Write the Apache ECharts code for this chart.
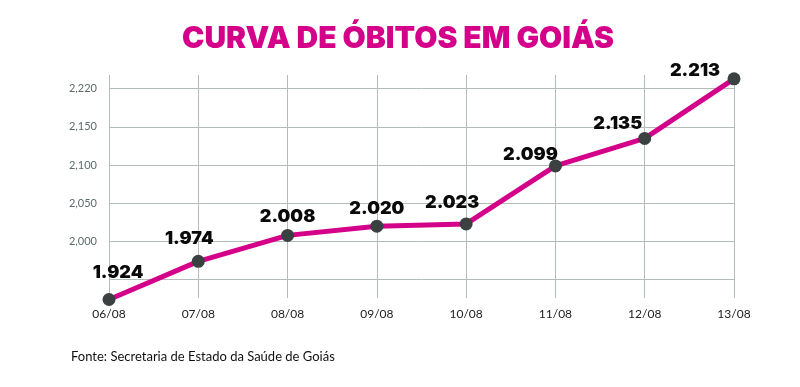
<!DOCTYPE html>
<html>
<head>
<meta charset="utf-8">
<script src="https://cdn.jsdelivr.net/npm/echarts@6/dist/echarts.min.js"></script>
<style>
html,body{margin:0;padding:0;background:#fff;}
#c{width:800px;height:387px;}
</style>
</head>
<body>
<div id="c"></div>
<script>
var categories = ['06/08','07/08','08/08','09/08','10/08','11/08','12/08','13/08'];
var obitos = [1924, 1974, 2008, 2020, 2023, 2099, 2135, 2213];
var valueLabels = ['1.924','1.974','2.008','2.020','2.023','2.099','2.135','2.213'];
var gridValues = [1950, 2000, 2050, 2100, 2150, 2200];
var tickValues = [2000, 2050, 2100, 2150, 2200];
var tickLabels = ['2,000','2,050','2,100','2,150','2,220'];

// label placement (layout only): offset of label centre from point centre
var labelOffsets = [[9,-27],[-9,-23],[0,-19],[0,-18],[-14,-21],[-25,-11],[-27,-15],[-39,-8]];

var chart = echarts.init(document.getElementById('c'), null, {renderer:'canvas'});

var seriesData = obitos.map(function(v, i){
  return {
    value: v,
    label: { show: true, formatter: valueLabels[i], offset: labelOffsets[i] }
  };
});

chart.setOption({
  animation: false,
  backgroundColor: '#ffffff',
  title: [{
    text: 'CURVA DE ÓBITOS EM GOIÁS',
    left: 177,
    top: 19,
    textStyle: { color: '#d4008a', fontSize: 30, fontWeight: 900, fontFamily: 'Inter' }
  },{
    text: 'Fonte: Secretaria de Estado da Saúde de Goiás',
    left: 66,
    top: 345,
    textStyle: { color: '#111', fontSize: 13, fontWeight: 'normal', fontFamily: 'Lato' }
  }],
  grid: { left: 109, right: 66, top: 75, bottom: 89, containLabel: false },
  xAxis: {
    type: 'category',
    data: categories,
    boundaryGap: false,
    axisLine: { show: false },
    axisTick: { show: false },
    axisLabel: { color: '#222', fontSize: 12, fontFamily: 'Lato', margin: 10 },
    splitLine: { show: true, lineStyle: { color: '#b4bcba', width: 1 } }
  },
  yAxis: {
    type: 'value',
    min: 1926,
    max: 2218,
    axisLine: { show: false },
    axisTick: { show: false },
    splitLine: { show: false },
    axisLabel: {
      customValues: tickValues,
      color: '#5d6b6a',
      fontSize: 11,
      fontFamily: 'Lato',
      margin: 12,
      formatter: function(v){
        var i = tickValues.indexOf(v);
        return i >= 0 ? tickLabels[i] : '';
      }
    }
  },
  series: [{
    type: 'line',
    data: obitos,
    symbol: 'none',
    lineStyle: { opacity: 0 },
    silent: true,
    z: 1,
    markLine: {
      silent: true,
      symbol: 'none',
      label: { show: false },
      lineStyle: { color: '#b4bcba', width: 1, type: 'solid' },
      data: gridValues.map(function(v){ return { yAxis: v }; })
    }
  },{
    type: 'line',
    data: seriesData,
    clip: false,
    z: 5,
    symbol: 'circle',
    symbolSize: 13,
    itemStyle: { color: '#3b4141' },
    lineStyle: { color: '#d4008a', width: 5 },
    label: {
      show: true,
      position: 'inside',
      color: '#0a0a0a',
      fontSize: 18,
      fontWeight: 900,
      fontFamily: 'Inter'
    }
  }]
});
</script>
</body>
</html>
